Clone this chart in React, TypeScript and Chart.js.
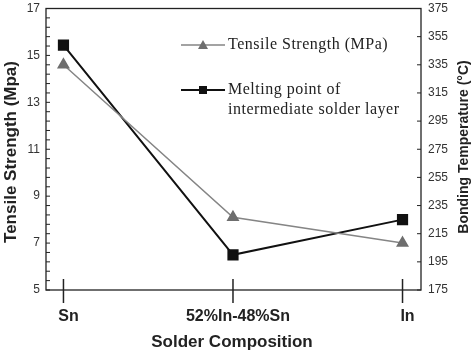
import React, { useEffect, useRef } from "react";
import { Chart, registerables } from "chart.js";
Chart.register(...registerables);

const categories = ["Sn", "52%In-48%Sn", "In"];
const tensileStrength = [14.6, 8.1, 7.0];
const meltingPoint = [349, 200, 225];
const leftRange = [5, 17];
const leftStep = 2;
const leftMinorStep = 0.4;
const rightRange = [175, 375];
const rightStep = 20;
const legendLabels = [["Tensile Strength (MPa)"], ["Melting point of", "intermediate solder layer"]];
const axisTitles = { x: "Solder Composition", left: "Tensile Strength (Mpa)", right: "Bonding Temperature (°C)" };

const SANS = "'Liberation Sans', Arial, sans-serif";
const SERIF = "'Liberation Serif', 'Times New Roman', serif";
const GRAY_LINE = "#858585";
const GRAY_MARK = "#6e6e6e";
const BLACK = "#111111";

const decor = {
  id: "decor",
  beforeDatasetsDraw(chart: any) {
    const { ctx, chartArea: a, scales } = chart;
    ctx.save();
    ctx.strokeStyle = "#222";
    ctx.lineWidth = 1.3;
    ctx.strokeRect(a.left, a.top, a.right - a.left, a.bottom - a.top);
    const yL = scales.y;
    const n = Math.round((leftRange[1] - leftRange[0]) / leftMinorStep);
    ctx.lineWidth = 1;
    for (let k = 0; k <= n; k++) {
      const py = yL.getPixelForValue(leftRange[0] + k * leftMinorStep);
      ctx.beginPath();
      ctx.moveTo(a.left, py);
      ctx.lineTo(a.left + 4, py);
      ctx.stroke();
    }
    const yR = scales.y2;
    for (let v = rightRange[0]; v <= rightRange[1]; v += rightStep) {
      const py = yR.getPixelForValue(v);
      ctx.beginPath();
      ctx.moveTo(a.right, py);
      ctx.lineTo(a.right - 4, py);
      ctx.stroke();
    }
    const xs = scales.x;
    ctx.lineWidth = 1.5;
    categories.forEach((_, i) => {
      const px = xs.getPixelForValue(i);
      ctx.beginPath();
      ctx.moveTo(px, a.bottom - 11);
      ctx.lineTo(px, a.bottom + 13);
      ctx.stroke();
    });
    ctx.restore();
  },
  afterDraw(chart: any) {
    const { ctx } = chart;
    ctx.save();
    ctx.fillStyle = "#222";
    ctx.textAlign = "center";
    ctx.textBaseline = "middle";
    ctx.font = `bold 17px ${SANS}`;
    ctx.fillText(axisTitles.x, 232, 342);
    ctx.save();
    ctx.translate(11, 152);
    ctx.rotate(-Math.PI / 2);
    ctx.fillText(axisTitles.left, 0, 0);
    ctx.restore();
    ctx.font = `bold 14px ${SANS}`;
    ctx.save();
    ctx.translate(464, 147);
    ctx.rotate(-Math.PI / 2);
    ctx.fillText(axisTitles.right, 0, 0);
    ctx.restore();

    const lx0 = 181, lx1 = 225, mx = 203, tx = 228;
    const rows = [
      { y: 45, color: GRAY_LINE, mark: GRAY_MARK, tri: true, w: 1.5 },
      { y: 90, color: BLACK, mark: BLACK, tri: false, w: 2 },
    ];
    ctx.font = `16px ${SERIF}`;
    (ctx as any).letterSpacing = "0.5px";
    ctx.textAlign = "left";
    ctx.textBaseline = "middle";
    rows.forEach((r, i) => {
      ctx.strokeStyle = r.color;
      ctx.lineWidth = r.w;
      ctx.beginPath();
      ctx.moveTo(lx0, r.y);
      ctx.lineTo(lx1, r.y);
      ctx.stroke();
      ctx.fillStyle = r.mark;
      if (r.tri) {
        ctx.beginPath();
        ctx.moveTo(mx, r.y - 5);
        ctx.lineTo(mx + 5, r.y + 4);
        ctx.lineTo(mx - 5, r.y + 4);
        ctx.closePath();
        ctx.fill();
      } else {
        ctx.fillRect(mx - 4, r.y - 4, 8, 8);
      }
      ctx.fillStyle = "#222";
      legendLabels[i].forEach((t, j) => ctx.fillText(t, tx, r.y + j * 20));
    });
    ctx.restore();
  },
};

export default function App() {
  const ref = useRef<HTMLCanvasElement>(null);
  useEffect(() => {
    if (!ref.current) return;
    const chart = new Chart(ref.current, {
      type: "line",
      data: {
        datasets: [
          {
            label: legendLabels[0][0],
            data: tensileStrength.map((v, i) => ({ x: i, y: v })),
            borderColor: GRAY_LINE,
            backgroundColor: GRAY_MARK,
            pointBackgroundColor: GRAY_MARK,
            pointBorderColor: GRAY_MARK,
            pointStyle: "triangle",
            pointRadius: 6,
            borderWidth: 1.5,
            yAxisID: "y",
            clip: false as any,
          },
          {
            label: legendLabels[1].join(" "),
            data: meltingPoint.map((v, i) => ({ x: i, y: v })),
            borderColor: BLACK,
            backgroundColor: BLACK,
            pointBackgroundColor: BLACK,
            pointBorderColor: BLACK,
            pointStyle: "rect",
            pointRadius: 6.5,
            borderWidth: 2,
            yAxisID: "y2",
            clip: false as any,
          },
        ],
      },
      options: {
        responsive: false,
        animation: false,
        layout: { padding: { top: 7, left: 0, right: 0, bottom: 0 } },
        plugins: { legend: { display: false }, tooltip: { enabled: false } },
        scales: {
          x: {
            type: "linear",
            min: -0.103,
            max: 2.109,
            grid: { display: false, drawTicks: false },
            border: { display: false },
            afterBuildTicks: (s: any) => {
              s.ticks = categories.map((_, i) => ({ value: i }));
            },
            afterFit: (s: any) => {
              s.height = 61;
              s.paddingLeft = 0;
              s.paddingRight = 0;
            },
            ticks: {
              callback: (v: any) => categories[v] ?? "",
              font: { family: SANS, size: 16, weight: "bold" },
              color: "#222",
              padding: 17,
              labelOffset: 5,
              maxRotation: 0,
            },
          },
          y: {
            position: "left",
            min: leftRange[0],
            max: leftRange[1],
            grid: { display: false, drawTicks: false },
            border: { display: false },
            afterFit: (s: any) => {
              s.width = 46;
              s.paddingTop = 0;
              s.paddingBottom = 0;
            },
            ticks: {
              stepSize: leftStep,
              font: { family: SANS, size: 12 },
              color: "#333",
              padding: 6,
            },
          },
          y2: {
            position: "right",
            min: rightRange[0],
            max: rightRange[1],
            grid: { display: false, drawTicks: false },
            border: { display: false },
            afterFit: (s: any) => {
              s.width = 53;
              s.paddingTop = 0;
              s.paddingBottom = 0;
            },
            ticks: {
              stepSize: rightStep,
              font: { family: SANS, size: 12 },
              color: "#333",
              padding: 7,
            },
          },
        },
      },
      plugins: [decor],
    });
    return () => chart.destroy();
  }, []);
  return (
    <div style={{ position: "fixed", left: 0, top: 0, width: 474, height: 351, background: "#fff" }}>
      <canvas ref={ref} width={474} height={351} style={{ width: 474, height: 351 }} />
    </div>
  );
}
